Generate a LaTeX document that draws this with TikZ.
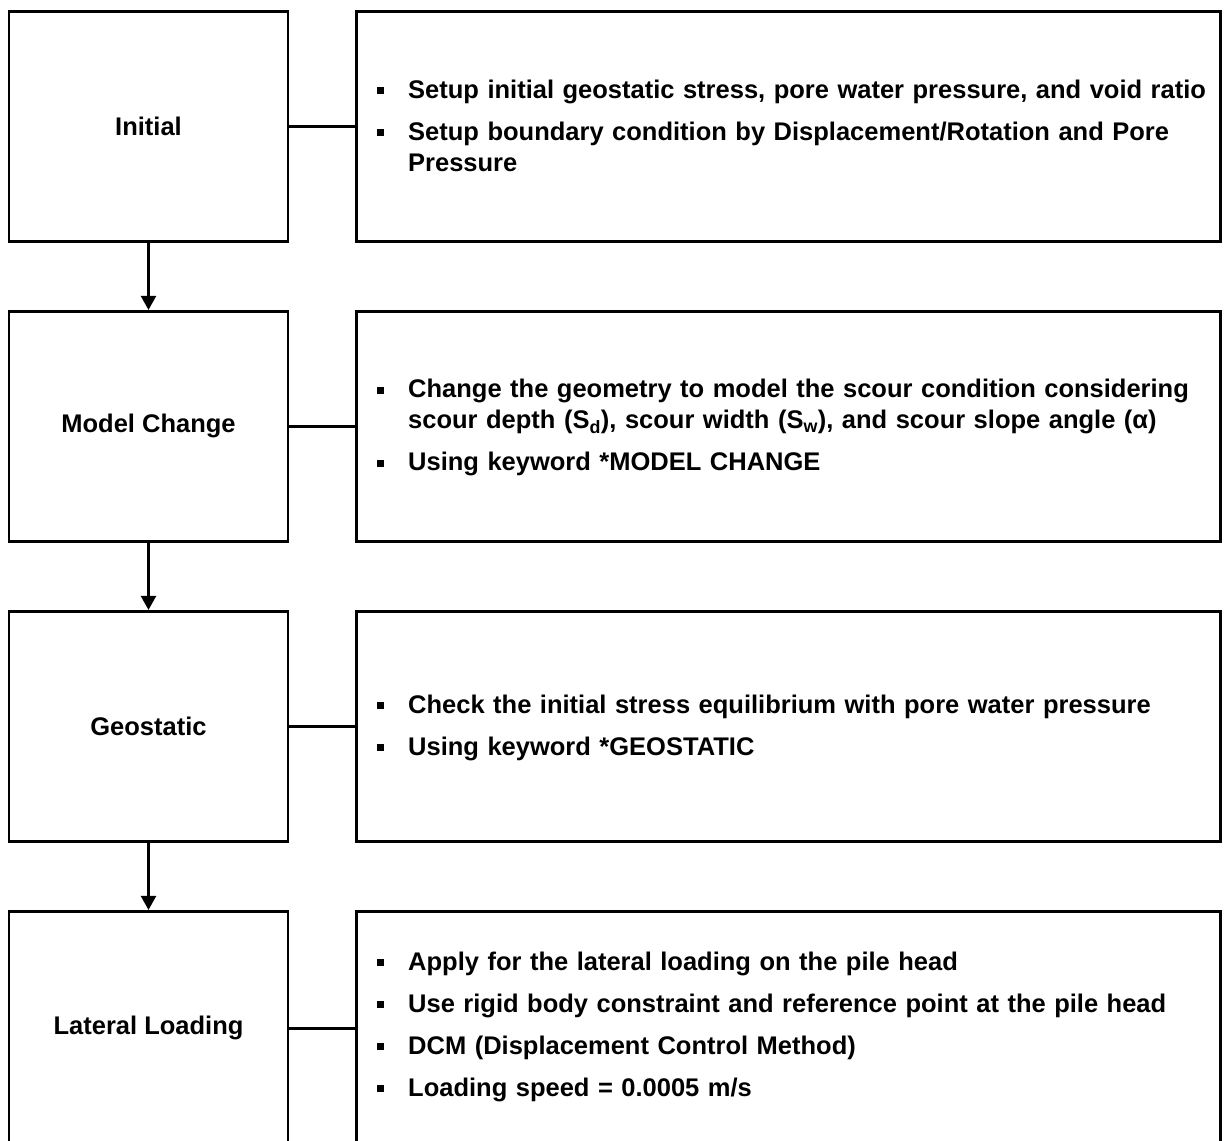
\documentclass[tikz,border=0pt]{standalone}
\usepackage{fontspec}
\setmainfont{Liberation Sans}
\usetikzlibrary{arrows.meta}
\newcommand{\bitem}[1]{\par\hangindent=31pt\hangafter=1\noindent\makebox[31pt][l]{\rule[4pt]{7pt}{7pt}}#1\par}
\tikzset{
  lbox/.style={draw, line width=2.8pt, minimum width=279pt, minimum height=230pt, inner sep=0pt, font=\fontsize{25.5pt}{30pt}\selectfont\bfseries},
  rbox/.style={draw, line width=2.8pt, minimum width=864pt, minimum height=230pt, inner sep=0pt},
  txt/.style={anchor=west, inner sep=0pt, text width=840pt, font=\fontsize{25.5pt}{31pt}\selectfont\bfseries, align=left},
  link/.style={line width=2.5pt},
  flow/.style={line width=2.5pt, -{Triangle[width=15pt,length=14pt]}}
}
\begin{document}
\begin{tikzpicture}[x=1pt,y=-1pt]
\useasboundingbox (0,0) rectangle (1225,1140);
\node[lbox] (L1) at (148.5,126.3) {Initial};
\node[lbox] (L2) at (148.5,426.3) {Model Change};
\node[lbox] (L3) at (148.5,726.3) {Geostatic};
\node[lbox, minimum height=234pt] (L4) at (148.5,1028.3) {Lateral Loading};
\node[rbox] (R1) at (788.3,126.3) {};
\node[rbox] (R2) at (788.3,426.3) {};
\node[rbox] (R3) at (788.3,726.3) {};
\node[rbox, minimum height=234pt] (R4) at (788.3,1028.3) {};
\node[txt] (T1) at (377,114) {\parskip=11pt
\bitem{Setup initial geostatic stress, pore water pressure, and void ratio}
\bitem{Setup boundary condition by Displacement/Rotation and Pore\hfil\break Pressure}};
\node[txt] (T2) at (377,416) {\parskip=11pt
\bitem{Change the geometry to model the scour condition considering\hfil\break scour depth (S\textsubscript{d}), scour width (S\textsubscript{w}), and scour slope angle (α)}
\bitem{Using keyword *MODEL CHANGE}};
\node[txt] (T3) at (377,716) {\parskip=11pt
\bitem{Check the initial stress equilibrium with pore water pressure}
\bitem{Using keyword *GEOSTATIC}};
\node[txt] (T4) at (377,1015) {\parskip=11pt
\bitem{Apply for the lateral loading on the pile head}
\bitem{Use rigid body constraint and reference point at the pile head}
\bitem{DCM (Displacement Control Method)}
\bitem{Loading speed = 0.0005 m/s}};
\draw[link] (L1.east) -- (R1.west);
\draw[link] (L2.east) -- (R2.west);
\draw[link] (L3.east) -- (R3.west);
\draw[link] (L4.east |- R4.west) -- (R4.west);
\draw[flow] (L1.south) -- (L2.north);
\draw[flow] (L2.south) -- (L3.north);
\draw[flow] (L3.south) -- (L4.north);
\end{tikzpicture}
\end{document}
